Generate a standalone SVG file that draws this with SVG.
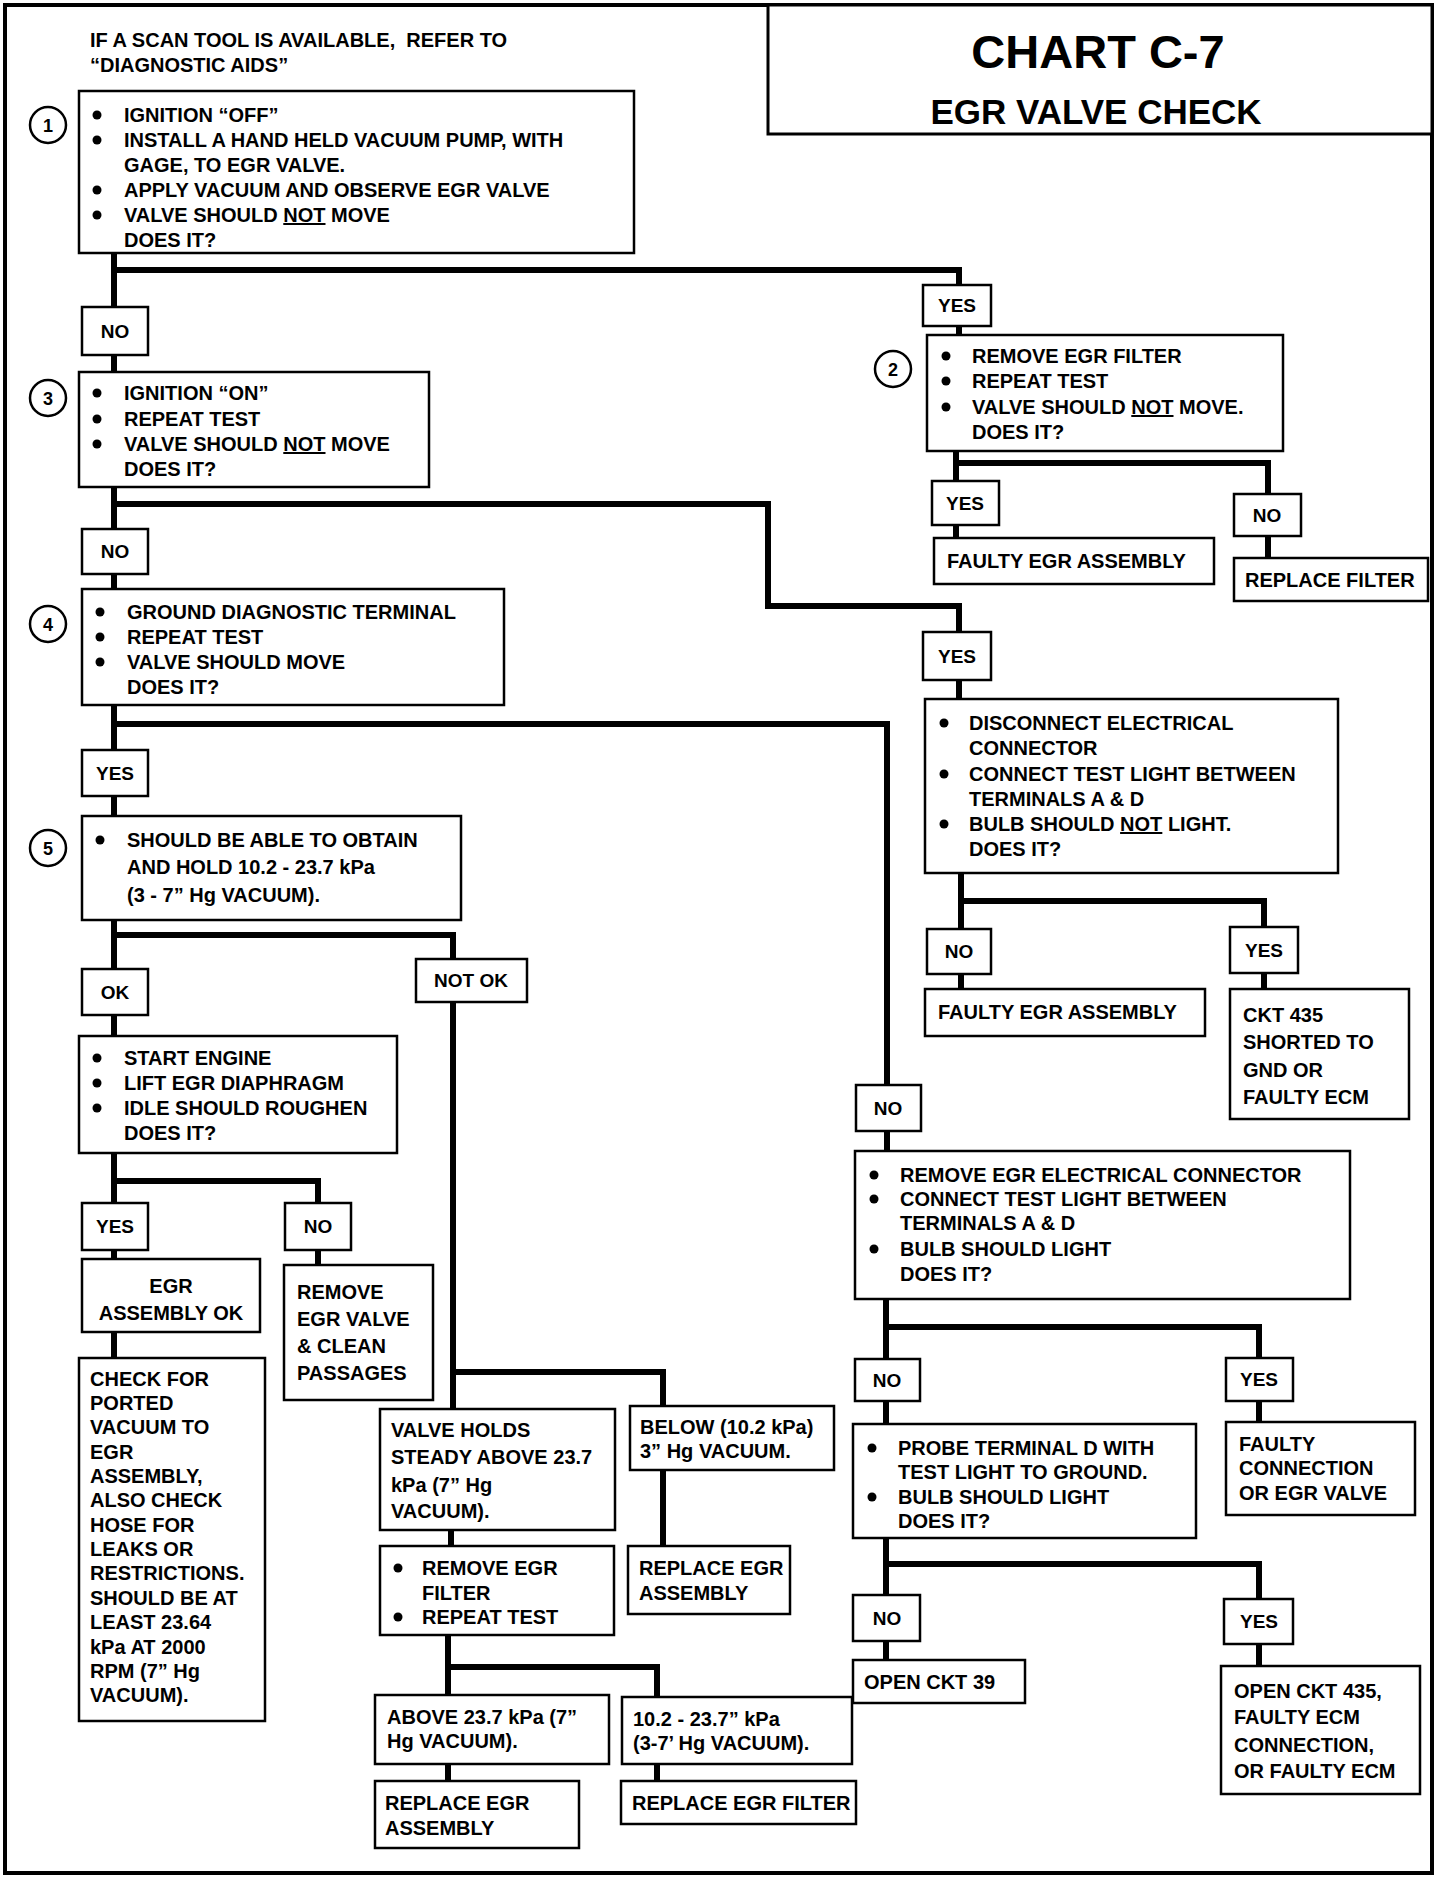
<svg xmlns="http://www.w3.org/2000/svg" width="1456" height="1880" viewBox="0 0 1456 1880">
<style>
.bx{fill:#fff;stroke:#000;stroke-width:2.5}
.ln{fill:none;stroke:#000;stroke-width:6;stroke-linejoin:miter}
.t{font-family:"Liberation Sans",Arial,sans-serif;font-weight:bold;font-size:20px;fill:#000}
.lb{font-family:"Liberation Sans",Arial,sans-serif;font-weight:bold;font-size:19px;fill:#000;text-anchor:middle}
.num{font-family:"Liberation Sans",Arial,sans-serif;font-weight:bold;font-size:18px;fill:#000;text-anchor:middle}
.cir{fill:#fff;stroke:#000;stroke-width:2.5}
.u{text-decoration:underline}
</style>
<rect x="0" y="0" width="1456" height="1880" fill="#fff"/>
<rect x="5" y="5" width="1427" height="1868" fill="none" stroke="#000" stroke-width="4"/>
<g id="title">
<rect x="768" y="5" width="664" height="129" fill="#fff" stroke="#000" stroke-width="3"/>
<text x="1098" y="68" style="font-family:'Liberation Sans',Arial,sans-serif;font-weight:bold;font-size:47px;text-anchor:middle">CHART C-7</text>
<text x="1096" y="124" style="font-family:'Liberation Sans',Arial,sans-serif;font-weight:bold;font-size:35px;text-anchor:middle">EGR VALVE CHECK</text>
</g>
<g id="note">
<text class="t" x="90" y="47">IF A SCAN TOOL IS AVAILABLE,&#160; REFER TO</text>
<text class="t" x="90" y="72">“DIAGNOSTIC AIDS”</text>
</g>
<g id="connectors">
<polyline class="ln" points="114,253 114,372"/>
<polyline class="ln" points="114,270 959,270 959,335"/>
<polyline class="ln" points="956,451 956,538"/>
<polyline class="ln" points="956,463 1268,463 1268,558"/>
<polyline class="ln" points="114,487 114,589"/>
<polyline class="ln" points="114,504 768,504 768,606 959,606 959,699"/>
<polyline class="ln" points="961,873 961,989"/>
<polyline class="ln" points="961,901 1264,901 1264,989"/>
<polyline class="ln" points="114,705 114,816"/>
<polyline class="ln" points="114,724 887,724 887,1151"/>
<polyline class="ln" points="114,920 114,1036"/>
<polyline class="ln" points="114,935 453,935 453,1409"/>
<polyline class="ln" points="114,1153 114,1259"/>
<polyline class="ln" points="114,1181 318,1181 318,1265"/>
<polyline class="ln" points="114,1332 114,1358"/>
<polyline class="ln" points="453,1372 663,1372 663,1546"/>
<polyline class="ln" points="451,1530 451,1546"/>
<polyline class="ln" points="448,1635 448,1695"/>
<polyline class="ln" points="448,1667 657,1667 657,1697"/>
<polyline class="ln" points="448,1764 448,1781"/>
<polyline class="ln" points="657,1764 657,1781"/>
<polyline class="ln" points="886,1299 886,1424"/>
<polyline class="ln" points="886,1327 1259,1327 1259,1422"/>
<polyline class="ln" points="886,1538 886,1660"/>
<polyline class="ln" points="886,1564 1259,1564 1259,1666"/>
</g>
<g id="step1">
<circle class="cir" cx="48" cy="125" r="18"/><text class="num" x="48" y="132">1</text>
<rect class="bx" x="79" y="91" width="555" height="162"/>
<circle cx="97" cy="115" r="4.5"/><circle cx="97" cy="140" r="4.5"/><circle cx="97" cy="190" r="4.5"/><circle cx="97" cy="215" r="4.5"/>
<text class="t" x="124" y="122">IGNITION “OFF”</text>
<text class="t" x="124" y="147">INSTALL A HAND HELD VACUUM PUMP, WITH</text>
<text class="t" x="124" y="172">GAGE, TO EGR VALVE.</text>
<text class="t" x="124" y="197">APPLY VACUUM AND OBSERVE EGR VALVE</text>
<text class="t" x="124" y="222">VALVE SHOULD <tspan class="u">NOT</tspan> MOVE</text>
<text class="t" x="124" y="247">DOES IT?</text>
</g>
<g id="lbl-no1"><rect class="bx" x="82" y="307" width="66" height="48"/><text class="lb" x="115" y="338">NO</text></g>
<g id="lbl-yes1"><rect class="bx" x="923" y="285" width="68" height="41"/><text class="lb" x="957" y="312">YES</text></g>
<g id="step2">
<circle class="cir" cx="893" cy="369" r="18"/><text class="num" x="893" y="376">2</text>
<rect class="bx" x="927" y="335" width="356" height="116"/>
<circle cx="946" cy="356" r="4.5"/><circle cx="946" cy="381" r="4.5"/><circle cx="946" cy="407" r="4.5"/>
<text class="t" x="972" y="363">REMOVE EGR FILTER</text>
<text class="t" x="972" y="388">REPEAT TEST</text>
<text class="t" x="972" y="414">VALVE SHOULD <tspan class="u">NOT</tspan> MOVE.</text>
<text class="t" x="972" y="439">DOES IT?</text>
</g>
<g id="lbl-yes2"><rect class="bx" x="932" y="481" width="67" height="44"/><text class="lb" x="965" y="510">YES</text></g>
<g id="lbl-no2"><rect class="bx" x="1234" y="494" width="67" height="42"/><text class="lb" x="1267" y="522">NO</text></g>
<g id="faulty1"><rect class="bx" x="934" y="538" width="280" height="46"/><text class="t" x="947" y="568">FAULTY EGR ASSEMBLY</text></g>
<g id="replace-filter"><rect class="bx" x="1234" y="558" width="194" height="43"/><text class="t" x="1245" y="587">REPLACE FILTER</text></g>
<g id="step3">
<circle class="cir" cx="48" cy="398" r="18"/><text class="num" x="48" y="405">3</text>
<rect class="bx" x="79" y="372" width="350" height="115"/>
<circle cx="97" cy="393" r="4.5"/><circle cx="97" cy="419" r="4.5"/><circle cx="97" cy="444" r="4.5"/>
<text class="t" x="124" y="400">IGNITION “ON”</text>
<text class="t" x="124" y="426">REPEAT TEST</text>
<text class="t" x="124" y="451">VALVE SHOULD <tspan class="u">NOT</tspan> MOVE</text>
<text class="t" x="124" y="476">DOES IT?</text>
</g>
<g id="lbl-no3"><rect class="bx" x="82" y="529" width="66" height="45"/><text class="lb" x="115" y="558">NO</text></g>
<g id="lbl-yes3"><rect class="bx" x="923" y="632" width="68" height="48"/><text class="lb" x="957" y="663">YES</text></g>
<g id="disconnect">
<rect class="bx" x="925" y="699" width="413" height="174"/>
<circle cx="944" cy="723" r="4.5"/><circle cx="944" cy="774" r="4.5"/><circle cx="944" cy="824" r="4.5"/>
<text class="t" x="969" y="730">DISCONNECT ELECTRICAL</text>
<text class="t" x="969" y="755">CONNECTOR</text>
<text class="t" x="969" y="781">CONNECT TEST LIGHT BETWEEN</text>
<text class="t" x="969" y="806">TERMINALS A &amp; D</text>
<text class="t" x="969" y="831">BULB SHOULD <tspan class="u">NOT</tspan> LIGHT.</text>
<text class="t" x="969" y="856">DOES IT?</text>
</g>
<g id="lbl-no4"><rect class="bx" x="927" y="929" width="64" height="45"/><text class="lb" x="959" y="958">NO</text></g>
<g id="lbl-yes4"><rect class="bx" x="1230" y="927" width="68" height="46"/><text class="lb" x="1264" y="957">YES</text></g>
<g id="faulty2"><rect class="bx" x="925" y="989" width="280" height="47"/><text class="t" x="938" y="1019">FAULTY EGR ASSEMBLY</text></g>
<g id="ckt435-short">
<rect class="bx" x="1230" y="989" width="179" height="130"/>
<text class="t" x="1243" y="1022">CKT 435</text>
<text class="t" x="1243" y="1049">SHORTED TO</text>
<text class="t" x="1243" y="1077">GND OR</text>
<text class="t" x="1243" y="1104">FAULTY ECM</text>
</g>
<g id="step4">
<circle class="cir" cx="48" cy="624" r="18"/><text class="num" x="48" y="631">4</text>
<rect class="bx" x="82" y="589" width="422" height="116"/>
<circle cx="100" cy="612" r="4.5"/><circle cx="100" cy="637" r="4.5"/><circle cx="100" cy="662" r="4.5"/>
<text class="t" x="127" y="619">GROUND DIAGNOSTIC TERMINAL</text>
<text class="t" x="127" y="644">REPEAT TEST</text>
<text class="t" x="127" y="669">VALVE SHOULD MOVE</text>
<text class="t" x="127" y="694">DOES IT?</text>
</g>
<g id="lbl-yes5"><rect class="bx" x="82" y="750" width="66" height="46"/><text class="lb" x="115" y="780">YES</text></g>
<g id="step5">
<circle class="cir" cx="48" cy="848" r="18"/><text class="num" x="48" y="855">5</text>
<rect class="bx" x="82" y="816" width="379" height="104"/>
<circle cx="100" cy="840" r="4.5"/>
<text class="t" x="127" y="847">SHOULD BE ABLE TO OBTAIN</text>
<text class="t" x="127" y="874">AND HOLD 10.2 - 23.7 kPa</text>
<text class="t" x="127" y="902">(3 - 7” Hg VACUUM).</text>
</g>
<g id="lbl-ok"><rect class="bx" x="82" y="969" width="66" height="46"/><text class="lb" x="115" y="999">OK</text></g>
<g id="lbl-notok"><rect class="bx" x="416" y="959" width="111" height="43"/><text class="lb" x="471" y="987">NOT OK</text></g>
<g id="lbl-no5"><rect class="bx" x="856" y="1085" width="65" height="46"/><text class="lb" x="888" y="1115">NO</text></g>
<g id="start-engine">
<rect class="bx" x="79" y="1036" width="318" height="117"/>
<circle cx="97" cy="1058" r="4.5"/><circle cx="97" cy="1083" r="4.5"/><circle cx="97" cy="1108" r="4.5"/>
<text class="t" x="124" y="1065">START ENGINE</text>
<text class="t" x="124" y="1090">LIFT EGR DIAPHRAGM</text>
<text class="t" x="124" y="1115">IDLE SHOULD ROUGHEN</text>
<text class="t" x="124" y="1140">DOES IT?</text>
</g>
<g id="lbl-yes6"><rect class="bx" x="82" y="1203" width="66" height="47"/><text class="lb" x="115" y="1233">YES</text></g>
<g id="lbl-no6"><rect class="bx" x="285" y="1203" width="66" height="47"/><text class="lb" x="318" y="1233">NO</text></g>
<g id="egr-ok">
<rect class="bx" x="82" y="1259" width="178" height="73"/>
<text class="t" x="171" y="1293" text-anchor="middle">EGR</text>
<text class="t" x="171" y="1320" text-anchor="middle">ASSEMBLY OK</text>
</g>
<g id="remove-valve">
<rect class="bx" x="284" y="1265" width="149" height="135"/>
<text class="t" x="297" y="1299">REMOVE</text>
<text class="t" x="297" y="1326">EGR VALVE</text>
<text class="t" x="297" y="1353">&amp; CLEAN</text>
<text class="t" x="297" y="1380">PASSAGES</text>
</g>
<g id="check-ported">
<rect class="bx" x="79" y="1358" width="186" height="363"/>
<text class="t" x="90" y="1386">CHECK FOR</text>
<text class="t" x="90" y="1410">PORTED</text>
<text class="t" x="90" y="1434">VACUUM TO</text>
<text class="t" x="90" y="1459">EGR</text>
<text class="t" x="90" y="1483">ASSEMBLY,</text>
<text class="t" x="90" y="1507">ALSO CHECK</text>
<text class="t" x="90" y="1532">HOSE FOR</text>
<text class="t" x="90" y="1556">LEAKS OR</text>
<text class="t" x="90" y="1580">RESTRICTIONS.</text>
<text class="t" x="90" y="1605">SHOULD BE AT</text>
<text class="t" x="90" y="1629">LEAST 23.64</text>
<text class="t" x="90" y="1654">kPa AT 2000</text>
<text class="t" x="90" y="1678">RPM (7” Hg</text>
<text class="t" x="90" y="1702">VACUUM).</text>
</g>
<g id="valve-holds">
<rect class="bx" x="380" y="1409" width="235" height="121"/>
<text class="t" x="391" y="1437">VALVE HOLDS</text>
<text class="t" x="391" y="1464">STEADY ABOVE 23.7</text>
<text class="t" x="391" y="1492">kPa (7” Hg</text>
<text class="t" x="391" y="1518">VACUUM).</text>
</g>
<g id="below">
<rect class="bx" x="630" y="1406" width="204" height="64"/>
<text class="t" x="640" y="1434">BELOW (10.2 kPa)</text>
<text class="t" x="640" y="1458">3” Hg VACUUM.</text>
</g>
<g id="replace-assy1">
<rect class="bx" x="628" y="1546" width="162" height="68"/>
<text class="t" x="639" y="1575">REPLACE EGR</text>
<text class="t" x="639" y="1600">ASSEMBLY</text>
</g>
<g id="remove-filter">
<rect class="bx" x="380" y="1546" width="234" height="89"/>
<circle cx="398" cy="1568" r="4.5"/><circle cx="398" cy="1617" r="4.5"/>
<text class="t" x="422" y="1575">REMOVE EGR</text>
<text class="t" x="422" y="1600">FILTER</text>
<text class="t" x="422" y="1624">REPEAT TEST</text>
</g>
<g id="above">
<rect class="bx" x="375" y="1695" width="234" height="69"/>
<text class="t" x="387" y="1724">ABOVE 23.7 kPa (7”</text>
<text class="t" x="387" y="1748">Hg VACUUM).</text>
</g>
<g id="range">
<rect class="bx" x="622" y="1697" width="230" height="67"/>
<text class="t" x="633" y="1726">10.2 - 23.7” kPa</text>
<text class="t" x="633" y="1750">(3-7’ Hg VACUUM).</text>
</g>
<g id="replace-assy2">
<rect class="bx" x="375" y="1781" width="204" height="67"/>
<text class="t" x="385" y="1810">REPLACE EGR</text>
<text class="t" x="385" y="1835">ASSEMBLY</text>
</g>
<g id="replace-egr-filter">
<rect class="bx" x="621" y="1781" width="235" height="43"/>
<text class="t" x="632" y="1810">REPLACE EGR FILTER</text>
</g>
<g id="remove-connector">
<rect class="bx" x="855" y="1151" width="495" height="148"/>
<circle cx="874" cy="1175" r="4.5"/><circle cx="874" cy="1199" r="4.5"/><circle cx="874" cy="1249" r="4.5"/>
<text class="t" x="900" y="1182">REMOVE EGR ELECTRICAL CONNECTOR</text>
<text class="t" x="900" y="1206">CONNECT TEST LIGHT BETWEEN</text>
<text class="t" x="900" y="1230">TERMINALS A &amp; D</text>
<text class="t" x="900" y="1256">BULB SHOULD LIGHT</text>
<text class="t" x="900" y="1281">DOES IT?</text>
</g>
<g id="lbl-no7"><rect class="bx" x="855" y="1359" width="65" height="42"/><text class="lb" x="887" y="1387">NO</text></g>
<g id="lbl-yes7"><rect class="bx" x="1226" y="1358" width="67" height="43"/><text class="lb" x="1259" y="1386">YES</text></g>
<g id="probe">
<rect class="bx" x="853" y="1424" width="343" height="114"/>
<circle cx="872" cy="1448" r="4.5"/><circle cx="872" cy="1497" r="4.5"/>
<text class="t" x="898" y="1455">PROBE TERMINAL D WITH</text>
<text class="t" x="898" y="1479">TEST LIGHT TO GROUND.</text>
<text class="t" x="898" y="1504">BULB SHOULD LIGHT</text>
<text class="t" x="898" y="1528">DOES IT?</text>
</g>
<g id="faulty-connection">
<rect class="bx" x="1226" y="1422" width="189" height="93"/>
<text class="t" x="1239" y="1451">FAULTY</text>
<text class="t" x="1239" y="1475">CONNECTION</text>
<text class="t" x="1239" y="1500">OR EGR VALVE</text>
</g>
<g id="lbl-no8"><rect class="bx" x="853" y="1595" width="67" height="46"/><text class="lb" x="887" y="1625">NO</text></g>
<g id="lbl-yes8"><rect class="bx" x="1224" y="1599" width="69" height="45"/><text class="lb" x="1259" y="1628">YES</text></g>
<g id="open-ckt39">
<rect class="bx" x="853" y="1660" width="172" height="43"/>
<text class="t" x="864" y="1689">OPEN CKT 39</text>
</g>
<g id="open-ckt435">
<rect class="bx" x="1221" y="1666" width="199" height="128"/>
<text class="t" x="1234" y="1698">OPEN CKT 435,</text>
<text class="t" x="1234" y="1724">FAULTY ECM</text>
<text class="t" x="1234" y="1752">CONNECTION,</text>
<text class="t" x="1234" y="1778">OR FAULTY ECM</text>
</g>
</svg>
